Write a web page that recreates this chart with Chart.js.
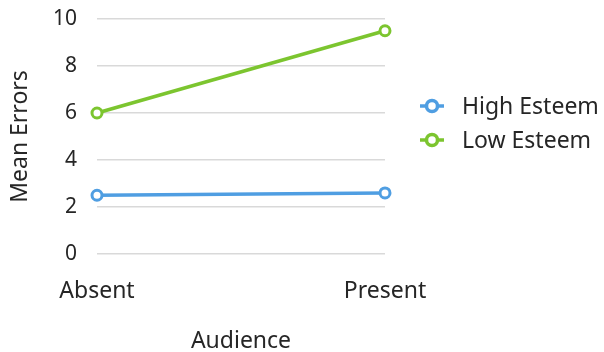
<!DOCTYPE html>
<html>
<head>
<meta charset="utf-8">
<script src="https://cdn.jsdelivr.net/npm/chart.js@4.4.1/dist/chart.umd.min.js"></script>
<style>
  html, body { margin: 0; padding: 0; background: #fff; }
  #wrap { width: 604px; height: 352px; position: relative; }
</style>
</head>
<body>
<div id="wrap"><canvas id="c"></canvas></div>
<script>
// Mean errors by audience condition and self-esteem group
const categories = ['Absent', 'Present'];
const highEsteem = [2.5, 2.6];
const lowEsteem = [6.0, 9.5];
const yTicks = [0, 2, 4, 6, 8, 10];

const seriesNames = ['High Esteem', 'Low Esteem'];
const seriesColors = ['#4f9ee2', '#7cc52f'];
const FONT = '"Noto Sans", "Open Sans", sans-serif';
const TEXT = '#262626';
const TEXT_SIZE = 23;

// Legend drawn to the right of the plot: short line with a hollow marker, then the label
const sideLegend = {
  id: 'sideLegend',
  afterDraw(chart) {
    const ctx = chart.ctx;
    const area = chart.chartArea;
    const x0 = area.right + 47;
    const yStart = area.top + 87;
    const rowGap = 34;
    ctx.save();
    chart.data.datasets.forEach((ds, i) => {
      const y = yStart + i * rowGap;
      ctx.strokeStyle = ds.borderColor;
      ctx.lineWidth = 3.5;
      ctx.beginPath();
      ctx.moveTo(x0 - 12, y);
      ctx.lineTo(x0 + 12, y);
      ctx.stroke();
      ctx.beginPath();
      ctx.arc(x0, y, 5.5, 0, Math.PI * 2);
      ctx.fillStyle = '#fff';
      ctx.fill();
      ctx.stroke();
      ctx.fillStyle = TEXT;
      ctx.font = TEXT_SIZE + 'px ' + FONT;
      ctx.textBaseline = 'middle';
      ctx.textAlign = 'left';
      ctx.fillText(ds.label, x0 + 30, y + 1);
    });
    ctx.restore();
  }
};

function makeDataset(i, values) {
  return {
    label: seriesNames[i],
    data: values,
    borderColor: seriesColors[i],
    backgroundColor: '#fff',
    borderWidth: 3.5,
    pointRadius: 5,
    pointBorderWidth: 3,
    pointBackgroundColor: '#fff',
    pointBorderColor: seriesColors[i],
    tension: 0
  };
}

new Chart(document.getElementById('c'), {
  type: 'line',
  data: {
    labels: categories,
    datasets: [makeDataset(0, highEsteem), makeDataset(1, lowEsteem)]
  },
  plugins: [sideLegend],
  options: {
    responsive: true,
    maintainAspectRatio: false,
    animation: false,
    layout: { padding: { top: 19, right: 219, bottom: 0, left: 0 } },
    plugins: {
      legend: { display: false },
      tooltip: { enabled: false }
    },
    scales: {
      x: {
        offset: false,
        grid: { display: false, drawTicks: false },
        border: { display: false },
        ticks: { color: TEXT, font: { family: FONT, size: TEXT_SIZE }, padding: 24, maxRotation: 0, autoSkip: false },
        title: {
          display: true, text: 'Audience', color: TEXT,
          font: { family: FONT, size: TEXT_SIZE }, padding: { top: 20, bottom: -3 }
        },
        afterFit(scale) { scale.height = 98; }
      },
      y: {
        min: 0, max: 10,
        afterBuildTicks(axis) { axis.ticks = yTicks.map(v => ({ value: v })); },
        grid: { color: '#d9d9d9', lineWidth: 1.5, drawTicks: false },
        border: { display: false },
        ticks: { color: TEXT, font: { family: FONT, size: 21 }, padding: 20 },
        title: {
          display: true, text: 'Mean Errors', color: TEXT,
          font: { family: FONT, size: TEXT_SIZE }, padding: { top: 7, bottom: 10 }
        },
        afterFit(scale) {
          scale.width = 97;
          scale.paddingTop = 0;
          scale.paddingBottom = 0;
        }
      }
    }
  }
});
</script>
</body>
</html>
